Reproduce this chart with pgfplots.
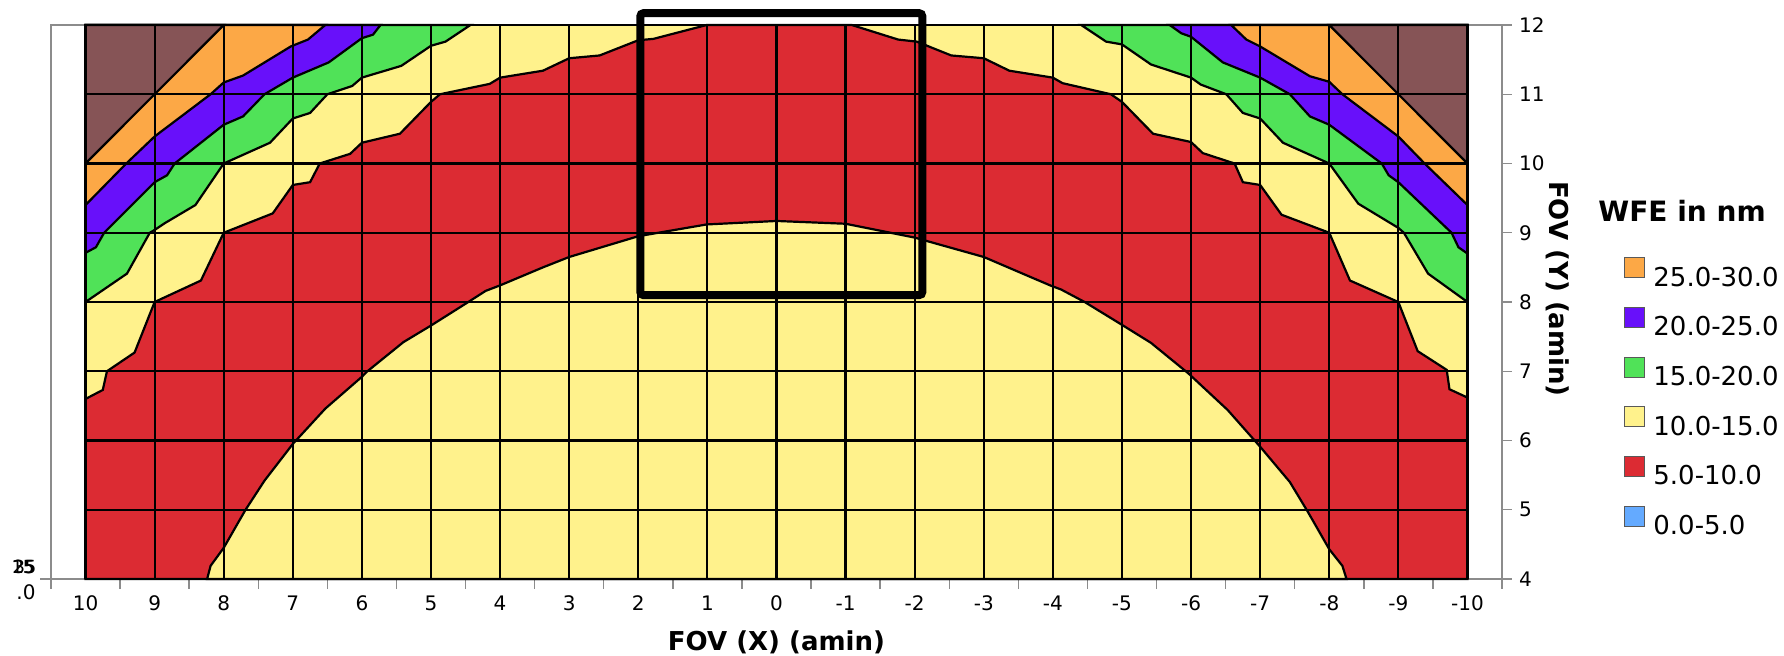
\documentclass[border=0pt]{standalone}
\usepackage{fontspec}
\setmainfont{DejaVu Sans}
\usepackage{pgfplots}
\pgfplotsset{compat=1.18}
\definecolor{cBrown}{RGB}{134,84,86}
\definecolor{cOrange}{RGB}{252,168,70}
\definecolor{cPurple}{RGB}{104,16,250}
\definecolor{cGreen}{RGB}{80,226,88}
\definecolor{cYellow}{RGB}{255,242,140}
\definecolor{cRed}{RGB}{220,43,51}
\definecolor{cBlue}{RGB}{100,170,255}
\definecolor{cAxis}{RGB}{140,140,140}
\begin{document}
\begin{tikzpicture}
\begin{axis}[
  name=ax,
  scale only axis, width=725.5pt, height=277pt,
  xmin=-10.5, xmax=10.5, ymin=4, ymax=12, x dir=reverse,
  clip=false,
  axis line style={draw=cAxis, line width=0.7pt},
  xtick={-10,...,10}, ytick={4,...,12},
  minor xtick={-10.5,-9.5,...,10.5},
  xtick pos=bottom, ytick pos=right, yticklabel pos=right,
  tick align=outside,
  major tick length=5pt, minor tick length=5pt,
  major x tick style={draw=none},
  minor x tick style={draw=cAxis, line width=0.7pt},
  y tick style={draw=cAxis, line width=0.7pt},
  tick label style={font=\fontsize{10}{12}\selectfont},
  /pgf/number format/assume math mode=true,
  xlabel={FOV (X) (amin)},
  xlabel style={font=\bfseries\fontsize{13}{15}\selectfont, at={(axis description cs:0.5,-0.1137)}, anchor=center},
  ylabel={FOV (Y) (amin)},
  every axis y label/.style={font=\bfseries\fontsize{13}{15}\selectfont, at={(axis description cs:1.0386,0.5235)}, anchor=center, rotate=-90},
  legend image code/.code={\draw[#1,draw=gray!70!black,line width=0.5pt] (0pt,0pt) rectangle (10pt,10pt);},
  legend cell align=left,
  legend style={at={(axis description cs:1.0841,0.5812)}, anchor=north west, draw=none, fill=none,
    font=\fontsize{13}{15}\selectfont, row sep=9pt, column sep=4pt, inner sep=0pt,
    nodes={inner sep=0pt}},
]
% background (10-15)
\addplot[fill=cYellow, draw=none, forget plot] coordinates {(-10,4)(10,4)(10,12)(-10,12)} -- cycle;
% 5-10 band (outer boundary)
\addplot[fill=cRed, draw=black, line width=1.1pt, forget plot] coordinates {
(10,4)(10,6.60)(9.75,6.73)(9.69,7)(9.29,7.27)(9,8)(8.33,8.31)(8,9)(7.29,9.28)(7,9.69)(6.75,9.73)(6.61,10)(6.17,10.14)(6,10.30)(5.45,10.43)(5,10.89)(4.87,11)(4.15,11.15)(4,11.24)(3.38,11.34)(3,11.52)(2.56,11.56)(2,11.78)(1.78,11.80)(1.01,12)(-1.09,12)(-1.76,11.79)(-2.03,11.76)(-2.53,11.56)(-3,11.52)(-3.37,11.34)(-4,11.24)(-4.14,11.16)(-4.84,11)(-5,10.89)(-5.45,10.43)(-6,10.31)(-6.17,10.15)(-6.63,10)(-6.75,9.73)(-7,9.69)(-7.31,9.26)(-8,9)(-8.30,8.31)(-9,8)(-9.28,7.29)(-9.70,7.02)(-9.74,6.74)(-10,6.62)(-10,4)} -- cycle;
% inner dome 10-15
\addplot[fill=cYellow, draw=black, line width=1.1pt, forget plot] coordinates {
(8.24,4)(8.19,4.19)(8,4.45)(7.69,4.99)(7.41,5.42)(7,5.95)(6.53,6.46)(6,6.92)(5.92,7)(5.40,7.42)(5,7.66)(4.46,8)(4.21,8.16)(4,8.24)(3.38,8.50)(3,8.65)(2,8.95)(1.01,9.12)(0,9.17)(-1,9.13)(-2,8.93)(-3,8.65)(-3.96,8.24)(-4.12,8.18)(-4.46,8)(-5,7.67)(-5.42,7.41)(-5.96,6.97)(-6.53,6.44)(-7,5.91)(-7.43,5.40)(-7.69,4.97)(-8,4.43)(-8.19,4.19)(-8.25,4)} -- cycle;
% 15-20
\addplot[fill=cGreen, draw=black, line width=1.1pt, forget plot] coordinates {
(10,8)(9.40,8.41)(9.07,9)(9,9.04)(8.85,9.14)(8.41,9.40)(8,10)(7.33,10.30)(7,10.65)(6.75,10.73)(6.50,11)(6.14,11.12)(6,11.24)(5.43,11.41)(5,11.70)(4.79,11.76)(4.43,12)(10,12)} -- cycle;
\addplot[fill=cGreen, draw=black, line width=1.1pt, forget plot] coordinates {
(-10,8)(-9.43,8.41)(-9.08,9)(-9,9.07)(-8.42,9.42)(-8,10)(-7.33,10.30)(-7,10.65)(-6.75,10.73)(-6.51,11)(-6.14,11.14)(-6,11.24)(-5.42,11.43)(-5,11.72)(-4.77,11.76)(-4.41,12)(-10,12)} -- cycle;
% 20-25
\addplot[fill=cPurple, draw=black, line width=1.1pt, forget plot] coordinates {
(10,8.71)(9.85,8.79)(9.73,9)(9,9.73)(8.82,9.83)(8.71,10)(8,10.56)(7.72,10.68)(7.41,11)(7,11.24)(6.48,11.46)(6,11.81)(5.84,11.86)(5.73,12)(10,12)} -- cycle;
\addplot[fill=cPurple, draw=black, line width=1.1pt, forget plot] coordinates {
(-10,8.70)(-9.87,8.79)(-9.77,9)(-9,9.73)(-8.86,9.83)(-8.76,10)(-8,10.56)(-7.72,10.68)(-7.43,11)(-7,11.24)(-6.46,11.46)(-6,11.83)(-5.86,11.88)(-5.69,12)(-10,12)} -- cycle;
% 25-30
\addplot[fill=cOrange, draw=black, line width=1.1pt, forget plot] coordinates {
(10,9.40)(9.41,10)(9,10.39)(8.19,11)(8,11.17)(7.72,11.27)(7.03,11.69)(6.78,11.79)(6.53,12)(10,12)} -- cycle;
\addplot[fill=cOrange, draw=black, line width=1.1pt, forget plot] coordinates {
(-10,9.40)(-9.38,10)(-9,10.39)(-8.19,11)(-8,11.18)(-7.72,11.26)(-7,11.69)(-6.80,11.79)(-6.58,12)(-10,12)} -- cycle;
% >30
\addplot[fill=cBrown, draw=black, line width=1.1pt, forget plot] coordinates {(10,10)(9,11)(8,12)(10,12)} -- cycle;
\addplot[fill=cBrown, draw=black, line width=1.1pt, forget plot] coordinates {(-10,10)(-9,11)(-8,12)(-10,12)} -- cycle;
% grid
\pgfplotsinvokeforeach{-10,...,10}{\addplot[black, line width=1.1pt, forget plot] coordinates {(#1,4) (#1,12)};}
\pgfplotsinvokeforeach{4,...,12}{\addplot[black, line width=1.1pt, forget plot] coordinates {(-10,#1) (10,#1)};}
% highlighted box
\addplot[black, line width=4pt, rounded corners=1.5pt, forget plot] coordinates {(1.97,8.10)(-2.11,8.10)(-2.11,12.17)(1.97,12.17)} -- cycle;
% legend
\addlegendimage{fill=cOrange}\addlegendentry{25.0-30.0}
\addlegendimage{fill=cPurple}\addlegendentry{20.0-25.0}
\addlegendimage{fill=cGreen}\addlegendentry{15.0-20.0}
\addlegendimage{fill=cYellow}\addlegendentry{10.0-15.0}
\addlegendimage{fill=cRed}\addlegendentry{5.0-10.0}
\addlegendimage{fill=cBlue}\addlegendentry{0.0-5.0}
\node[font=\bfseries\fontsize{14}{16}\selectfont] at (axis description cs:1.1241,0.664) {WFE in nm};
\end{axis}
\draw[cAxis, line width=0.7pt] (ax.south west) -- ++(-5.5pt,0pt);
\node[font=\fontsize{9}{10}\selectfont, inner sep=0pt] at ([shift={(-14pt,6pt)}]ax.south west) {15};
\node[font=\fontsize{9}{10}\selectfont, inner sep=0pt] at ([shift={(-13.5pt,6pt)}]ax.south west) {25};
\node[font=\fontsize{9}{10}\selectfont, inner sep=0pt] at ([shift={(-13pt,6pt)}]ax.south west) {35};
\node[font=\fontsize{10}{12}\selectfont, inner sep=0pt] at ([shift={(-12.5pt,-6.5pt)}]ax.south west) {.0};
\pgfresetboundingbox
\path[use as bounding box] ([shift={(-25.5pt,-38.5pt)}]ax.south west) rectangle ([shift={(866.5pt,289.5pt)}]ax.south west);
\end{tikzpicture}
\end{document}
